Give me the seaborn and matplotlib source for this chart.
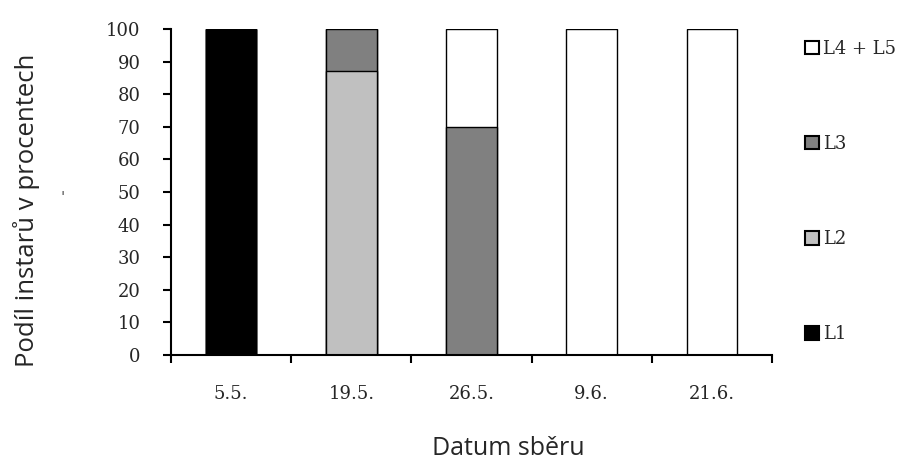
import matplotlib
matplotlib.use("Agg")
import matplotlib.pyplot as plt
from matplotlib.patches import Patch
import numpy as np
import pandas as pd
import seaborn as sns

# data (percent of instars per sampling date)
dates = ["5.5.", "19.5.", "26.5.", "9.6.", "21.6."]
l1 = [100, 0, 0, 0, 0]
l2 = [0, 87, 0, 0, 0]
l3 = [0, 13, 70, 0, 0]
l45 = [0, 0, 30, 100, 100]

series = ["L1", "L2", "L3", "L4 + L5"]
values = [l1, l2, l3, l45]
colors = ["#000000", "#c0c0c0", "#808080", "#ffffff"]

sns.set_style("white")

fig = plt.figure(figsize=(9.05, 4.67), dpi=100)
ax = fig.add_axes([0.189, 0.240, 0.664, 0.698])

# stacked bars: draw cumulative totals from the top series down
cum = np.cumsum(np.array(values), axis=0)
for i in range(len(series) - 1, -1, -1):
    df = pd.DataFrame({"date": dates, "value": cum[i]})
    sns.barplot(data=df, x="date", y="value", color=colors[i], saturation=1,
                edgecolor="black", linewidth=1.0, width=0.42, ax=ax)

serif = "DejaVu Serif"
ax.set_ylim(0, 100)
ax.set_xlim(-0.5, 4.5)
ax.set_yticks(range(0, 101, 10))
ax.set_yticklabels([str(v) for v in range(0, 101, 10)], fontsize=13, family=serif)
ax.set_xticks(range(len(dates)))
ax.set_xticklabels(dates, fontsize=13, family=serif)
ax.tick_params(axis="x", which="major", length=0, pad=22, bottom=True)
ax.set_xticks(np.arange(-0.5, 4.6, 1), minor=True)
ax.tick_params(axis="x", which="minor", length=6, width=1.5, direction="out",
               color="black", bottom=True)
ax.tick_params(axis="y", length=6, width=1.5, direction="out", color="black",
               pad=16, left=True)

for s in ["top", "right"]:
    ax.spines[s].set_visible(False)
for s in ["left", "bottom"]:
    ax.spines[s].set_color("black")
    ax.spines[s].set_linewidth(1.5)

ax.set_xlabel("Datum sběru", fontsize=18, family="Open Sans")
ax.set_ylabel("Podíl instarů v procentech", fontsize=18.5, family="Open Sans")
ax.xaxis.set_label_coords(0.562, -0.248)
ax.yaxis.set_label_coords(-0.218, 0.445)

# small stray mark next to the y label in the original scan
fig.text(0.069, 0.575, "'", fontsize=11, color="#555555", ha="center", va="center")

handles = [Patch(facecolor=colors[i], edgecolor="black", linewidth=1.5, label=series[i])
           for i in range(len(series) - 1, -1, -1)]
leg = ax.legend(handles=handles, loc="upper left", bbox_to_anchor=(1.055, 0.967),
                frameon=False, handlelength=0.8, handleheight=0.8, handletextpad=0.2,
                labelspacing=4.27, borderaxespad=0, borderpad=0,
                prop={"family": serif, "size": 13})

fig.savefig("out.png", dpi=100)
